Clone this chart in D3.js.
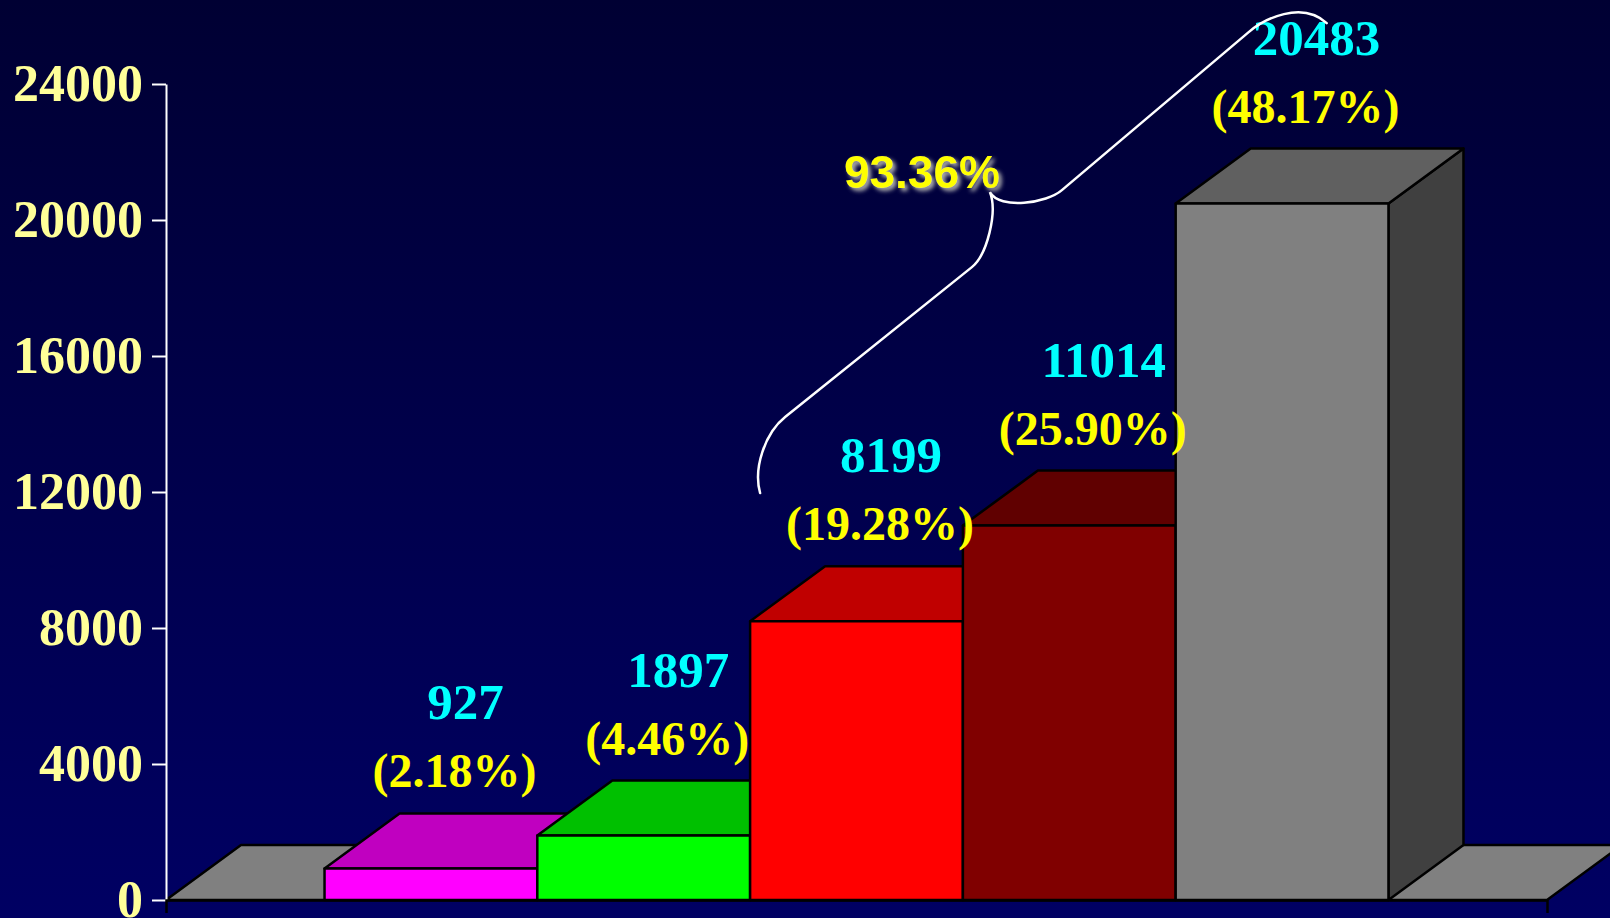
<!DOCTYPE html>
<html>
<head>
<meta charset="utf-8">
<script src="https://cdn.jsdelivr.net/npm/d3@7"></script>
<style>
  body { margin: 0; background: #000044; }
  svg { display: block; }
</style>
</head>
<body>
<div id="graph"></div>
<script>
// data
var categories = ['c1', 'c2', 'c3', 'c4', 'c5'];
var values = [927, 1897, 8199, 11014, 20483];
var percentLabels = ['(2.18%)', '(4.46%)', '(19.28%)', '(25.90%)', '(48.17%)'];
var yTicks = [0, 4000, 8000, 12000, 16000, 20000, 24000];
var totalLabel = '93.36%';

// colours for front face / top face / side face
var frontColors = ['#ff00ff', '#00ff00', '#ff0000', '#800000', '#808080'];
var topColors = ['#c000c0', '#00c000', '#c00000', '#600000', '#606060'];
var sideColors = ['#a000a0', '#00a000', '#a00000', '#500000', '#404040'];

var W = 1610, H = 918;
var margin = { top: 84, right: 63, bottom: 18, left: 166 };
var depthX = 75, depthY = 55;

var svg = d3.select('#graph')
  .append('svg')
  .attr('width', W)
  .attr('height', H);

var defs = svg.append('defs');
var grad = defs.append('linearGradient')
  .attr('id', 'bg')
  .attr('x1', 0).attr('y1', 0).attr('x2', 0).attr('y2', 1);
grad.append('stop').attr('offset', '0%').attr('stop-color', '#000033');
grad.append('stop').attr('offset', '100%').attr('stop-color', '#000063');

// soft grey shadow behind the total label
var glow = defs.append('filter')
  .attr('id', 'glow')
  .attr('x', '-20%').attr('y', '-30%').attr('width', '140%').attr('height', '160%');
glow.append('feGaussianBlur').attr('in', 'SourceAlpha').attr('stdDeviation', 2.2).attr('result', 'blur');
glow.append('feOffset').attr('in', 'blur').attr('dx', 3).attr('dy', 3).attr('result', 'off');
glow.append('feFlood').attr('flood-color', '#b0b0b0');
glow.append('feComposite').attr('in2', 'off').attr('operator', 'in').attr('result', 'shadow');
var merge = glow.append('feMerge');
merge.append('feMergeNode').attr('in', 'shadow');
merge.append('feMergeNode').attr('in', 'SourceGraphic');

svg.append('rect')
  .attr('width', W)
  .attr('height', H)
  .attr('fill', 'url(#bg)');

var x = d3.scaleBand()
  .domain(categories)
  .range([margin.left, W - margin.right])
  .paddingInner(0)
  .paddingOuter(0.745);

var y = d3.scaleLinear()
  .domain([0, 24000])
  .range([H - margin.bottom, margin.top]);

var x0 = x.range()[0], x1 = x.range()[1], y0 = y(0);

// floor plane
svg.append('path')
  .attr('d', 'M' + x0 + ',' + y0 + 'L' + (x0 + depthX) + ',' + (y0 - depthY) +
    'L' + (x1 + depthX) + ',' + (y0 - depthY) + 'L' + x1 + ',' + y0 + 'Z')
  .attr('fill', '#808080')
  .attr('stroke', '#000')
  .attr('stroke-width', 2.5)
  .attr('stroke-linejoin', 'round');

// y axis
var yAxis = svg.append('g')
  .attr('transform', 'translate(' + x0 + ',0)')
  .call(d3.axisLeft(y).tickValues(yTicks).tickFormat(d3.format('d')).tickSize(14).tickSizeOuter(0).tickPadding(9));
yAxis.select('.domain').attr('stroke', '#fff').attr('stroke-width', 2);
yAxis.selectAll('.tick line').attr('stroke', '#fff').attr('stroke-width', 2);
yAxis.selectAll('.tick text')
  .attr('fill', '#ffff99')
  .style('font-family', '"Times New Roman", "Liberation Serif", serif')
  .style('font-weight', 'bold')
  .style('font-size', '52px');

// 3d bars, left to right so each one hides the back of the previous
var bars = svg.append('g');
values.forEach(function(v, i) {
  var bx0 = x(categories[i]), bx1 = bx0 + x.bandwidth(), by = y(v);
  var g = bars.append('g');
  g.append('path')
    .attr('d', 'M' + bx1 + ',' + by + 'L' + (bx1 + depthX) + ',' + (by - depthY) +
      'L' + (bx1 + depthX) + ',' + (y0 - depthY) + 'L' + bx1 + ',' + y0 + 'Z')
    .attr('fill', sideColors[i]);
  g.append('path')
    .attr('d', 'M' + bx0 + ',' + by + 'L' + (bx0 + depthX) + ',' + (by - depthY) +
      'L' + (bx1 + depthX) + ',' + (by - depthY) + 'L' + bx1 + ',' + by + 'Z')
    .attr('fill', topColors[i]);
  g.append('rect')
    .attr('x', bx0)
    .attr('y', by)
    .attr('width', x.bandwidth())
    .attr('height', y0 - by)
    .attr('fill', frontColors[i]);
  g.selectAll('path, rect')
    .attr('stroke', '#000')
    .attr('stroke-width', 2.5)
    .attr('stroke-linejoin', 'round');
});

// x axis baseline with the two end ticks
var xAxis = svg.append('g')
  .attr('transform', 'translate(0,' + y0 + ')')
  .call(d3.axisBottom(x).tickValues([]).tickSizeOuter(13));
xAxis.select('.domain').attr('stroke', '#000').attr('stroke-width', 2.5);

// value and percent labels above each top face
var labels = svg.append('g')
  .style('font-family', '"Times New Roman", "Liberation Serif", serif')
  .style('font-weight', 'bold')
  .attr('text-anchor', 'middle');
labels.selectAll('text.val')
  .data(values)
  .enter()
  .append('text')
  .attr('class', 'val')
  .attr('x', function(d, i) { return x(categories[i]) + x.bandwidth() / 2 + depthX / 2 - 3; })
  .attr('y', function(d) { return y(d) - depthY - 94; })
  .attr('fill', '#00ffff')
  .style('font-size', '51px')
  .text(function(d) { return d; });
labels.selectAll('text.pct')
  .data(percentLabels)
  .enter()
  .append('text')
  .attr('class', 'pct')
  .attr('x', function(d, i) { return x(categories[i]) + x.bandwidth() / 2 + depthX / 2 - 14; })
  .attr('y', function(d, i) { return y(values[i]) - depthY - 26; })
  .attr('fill', '#ffff00')
  .style('font-size', '48px')
  .text(function(d) { return d; });

// curly brace grouping the three biggest bars
var lo = [x(categories[2]) + 10, y(11970)];
var tip = [x(categories[3]) + 27, y(20820)];
var hi = [x(categories[4]) + 151, y(25790)];
function pt(p, dx, dy) { return (p[0] + dx) + ',' + (p[1] + dy); }
var brace = 'M' + pt(lo, 0, 0) +
  'C' + pt(lo, -7, -25) + ' ' + pt(lo, 5, -60) + ' ' + pt(lo, 25, -76) +
  'L' + pt(tip, -18, 75) +
  'C' + pt(tip, -3, 63) + ' ' + pt(tip, 8, 20) + ' ' + pt(tip, 0, 0) +
  'C' + pt(tip, 10, 18) + ' ' + pt(tip, 57, 11) + ' ' + pt(tip, 72, -2) +
  'L' + pt(hi, -78, 9) +
  'C' + pt(hi, -63, -4) + ' ' + pt(hi, -25, -23) + ' ' + pt(hi, 0, 0);
svg.append('path')
  .attr('d', brace)
  .attr('fill', 'none')
  .attr('stroke', '#fff')
  .attr('stroke-width', 2.5)
  .attr('stroke-linecap', 'round');

svg.append('text')
  .attr('x', tip[0] + 10)
  .attr('y', tip[1] - 4)
  .attr('text-anchor', 'end')
  .attr('fill', '#ffff00')
  .attr('filter', 'url(#glow)')
  .style('font-family', 'Tahoma, "Liberation Sans", sans-serif')
  .style('font-weight', 'bold')
  .style('font-size', '46px')
  .text(totalLabel);
</script>
</body>
</html>
